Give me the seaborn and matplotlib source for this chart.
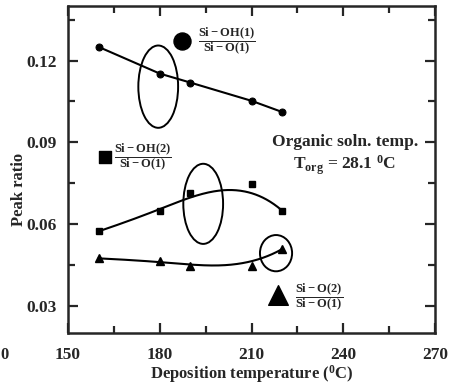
import numpy as np
import pandas as pd
import seaborn as sns
import matplotlib.pyplot as plt
from matplotlib.patches import Ellipse

# data
temps = [160, 180, 190, 210, 220]
si_oh1 = [0.1250, 0.1152, 0.1119, 0.1052, 0.1011]
si_oh2 = [0.0573, 0.0649, 0.0714, 0.0747, 0.0649]
si_o2 = [0.0474, 0.0463, 0.0445, 0.0445, 0.0508]

sns.set_style('ticks')
plt.rcParams['font.family'] = ['Liberation Serif', 'DejaVu Serif']
plt.rcParams['font.weight'] = 'bold'
plt.rcParams['mathtext.fontset'] = 'custom'
plt.rcParams['mathtext.rm'] = 'Liberation Serif:bold'
plt.rcParams['mathtext.it'] = 'Liberation Serif:bold'
plt.rcParams['mathtext.bf'] = 'Liberation Serif:bold'

df = pd.DataFrame({'temp': temps, 'oh1': si_oh1, 'oh2': si_oh2, 'o2': si_o2})


def bspline(px, py, k=3, n=200):
    # clamped B-spline that uses the data points as control points
    m = len(px)
    inner = np.linspace(0, 1, m - k + 1)[1:-1]
    t = np.concatenate([np.zeros(k + 1), inner, np.ones(k + 1)])
    u = np.linspace(0, 1 - 1e-9, n)
    B = np.array([((t[i] <= u) & (u < t[i + 1])).astype(float) for i in range(len(t) - 1)])
    for d in range(1, k + 1):
        nb = []
        for i in range(len(t) - 1 - d):
            row = np.zeros_like(u)
            if t[i + d] > t[i]:
                row += (u - t[i]) / (t[i + d] - t[i]) * B[i]
            if t[i + d + 1] > t[i + 1]:
                row += (t[i + d + 1] - u) / (t[i + d + 1] - t[i + 1]) * B[i + 1]
            nb.append(row)
        B = np.array(nb)
    return B.T @ np.asarray(px, float), B.T @ np.asarray(py, float)


fig = plt.figure(figsize=(4.5, 3.87), dpi=100)
ax = fig.add_axes([0.151, 0.1395, 0.816, 0.845])

# Si-OH(1): points joined by straight segments
sns.lineplot(data=df, x='temp', y='oh1', ax=ax, color='black', lw=1.5,
             marker='o', ms=5, mec='black')

# the other two: B-spline through the points
for col, mk, sz in [('oh2', 's', 5), ('o2', '^', 5.5)]:
    bx, by = bspline(df['temp'], df[col])
    sns.lineplot(x=bx, y=by, ax=ax, color='black', lw=1.5, sort=False)
    ax.plot(df['temp'], df[col], ls='none', marker=mk, ms=sz, color='black')

# ellipses
for cx, cy, w, h in [(179.5, 0.1104, 13, 0.0302), (194.2, 0.0674, 13, 0.0294),
                     (218, 0.0493, 10.5, 0.0133)]:
    ax.add_patch(Ellipse((cx, cy), w, h, fill=False, ec='black', lw=1.4))

# legend-like markers and labels
ax.scatter([187.3], [0.1271], marker='o', s=150, color='black')
ax.scatter([162.2], [0.0846], marker='s', s=80, color='black')
ax.scatter([218.7], [0.0338], marker='^', s=200, color='black')
ax.text(192.6, 0.1271, r'$\dfrac{\mathrm{Si-OH(1)}}{\mathrm{Si-O(1)}}$', fontsize=9, va='center')
ax.text(165.2, 0.0846, r'$\dfrac{\mathrm{Si-OH(2)}}{\mathrm{Si-O(1)}}$', fontsize=9, va='center')
ax.text(224.3, 0.0330, r'$\dfrac{\mathrm{Si-O(2)}}{\mathrm{Si-O(1)}}$', fontsize=9, va='center')

ax.text(240.5, 0.0902, 'Organic soln. temp.', fontsize=12.5, ha='center', va='center')
ax.text(240.5, 0.0815, r'T$_{\mathrm{org}}$ = 28.1 $^{\mathrm{0}}$C', fontsize=12.5, ha='center', va='center')

ax.set_xlim(150, 270)
ax.set_ylim(0.02, 0.14)
ax.set_xticks([150, 180, 210, 240, 270])
ax.set_xticks([165, 195, 225, 255], minor=True)
ax.set_yticks([0.03, 0.06, 0.09, 0.12])
ax.set_yticks([0.045, 0.075, 0.105, 0.135], minor=True)
ax.set_yticklabels(['0.03', '0.06', '0.09', '0.12'])
ax.tick_params(which='both', direction='in', top=True, right=True, width=1.6, labelsize=12.5)
ax.tick_params(axis='x', which='major', pad=10)
ax.tick_params(axis='y', which='major', pad=8)
ax.tick_params(which='major', length=7)
ax.tick_params(which='minor', length=5)
for s in ax.spines.values():
    s.set_linewidth(1.8)

ax.set_xlabel(r'Deposition temperature ($^{\mathrm{0}}$C)', fontsize=12, fontweight='bold', labelpad=0)
ax.set_ylabel('Peak ratio', fontsize=12, fontweight='bold')
ax.yaxis.set_label_coords(-0.112, 0.44)

fig.text(0.0, 1 - 355 / 387, '0', fontsize=12, ha='left', va='center')

fig.savefig('out.png', dpi=100)
